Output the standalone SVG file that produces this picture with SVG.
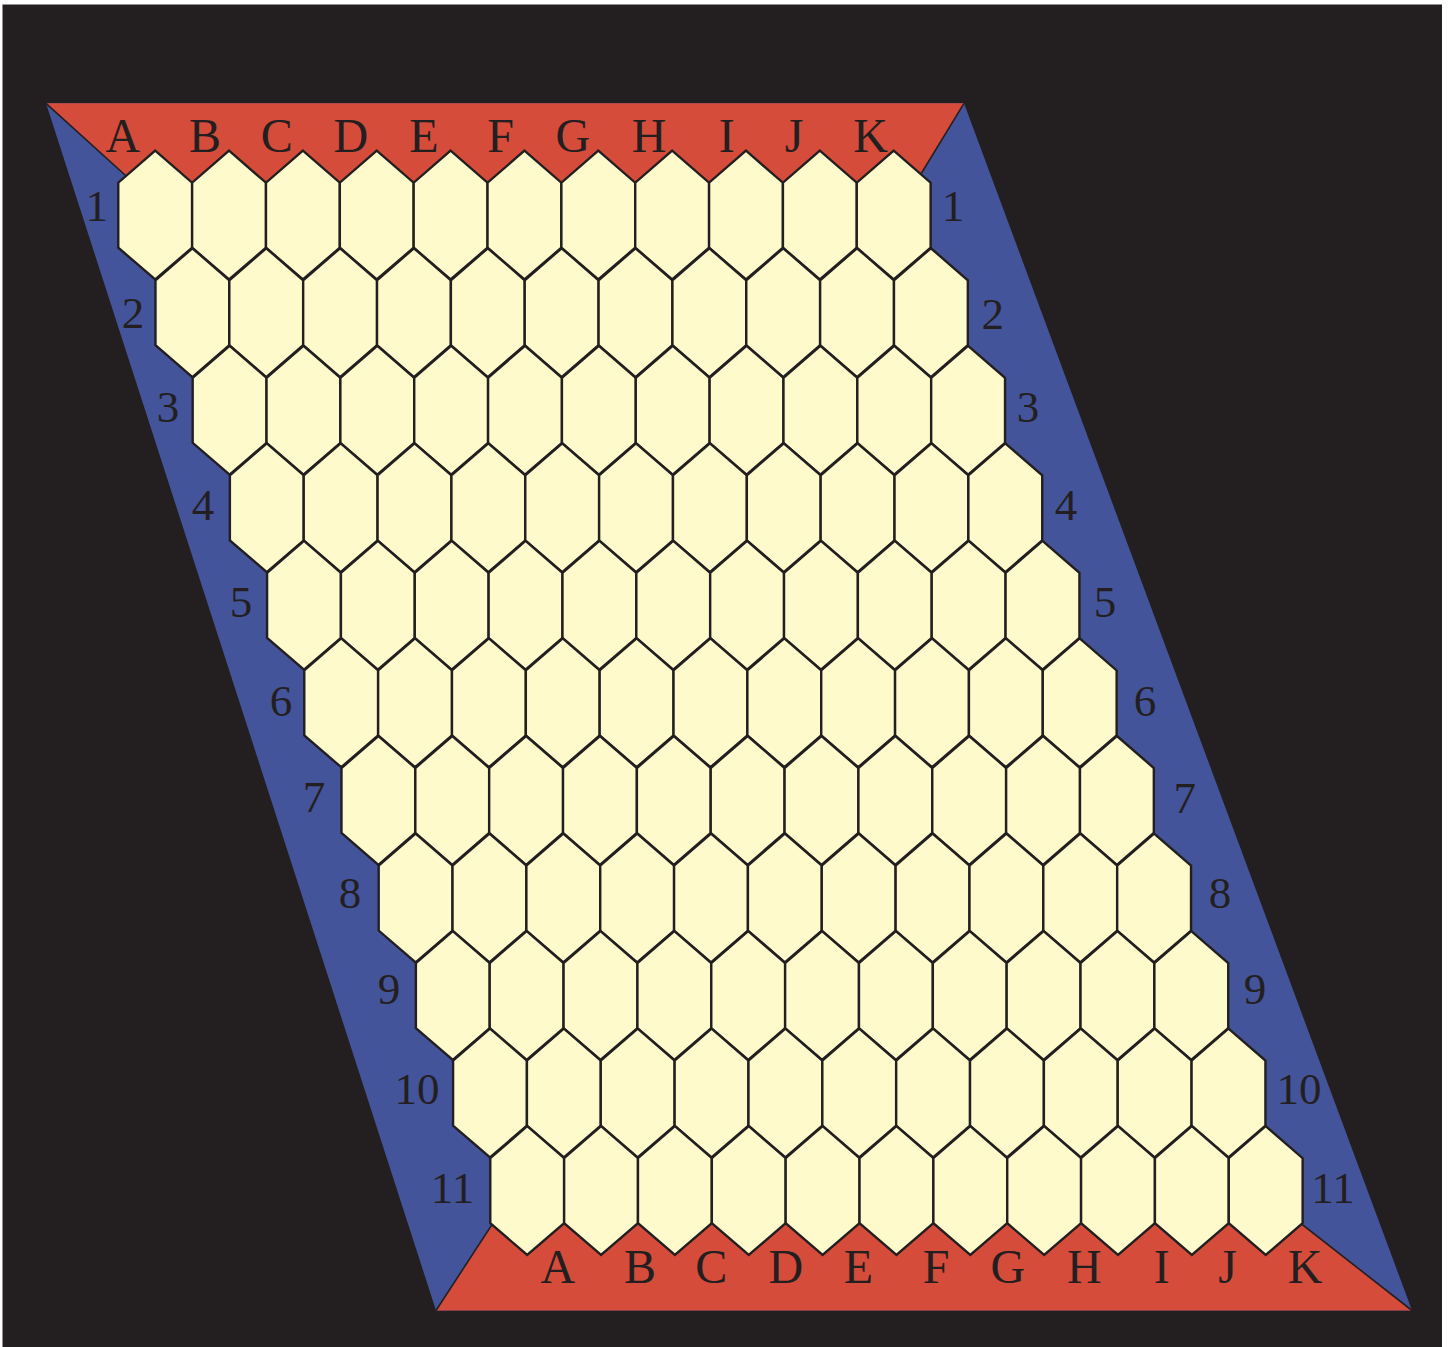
<svg xmlns="http://www.w3.org/2000/svg" width="1448" height="1347" viewBox="0 0 1448 1347">
<style>
.cell{fill:#fefacc;stroke:#231f20;stroke-width:2.4;stroke-linejoin:miter}
.edge{stroke:#231f20;stroke-width:1.6;fill:none}
.lbl{font-family:"Liberation Serif","Times New Roman",serif;fill:#231f20;text-anchor:middle}
.let{font-size:48px}
.num{font-size:45px}
</style>
<defs>
<path id="hex" class="cell" d="M0,0 L36.925,32 L36.925,97 L0,128.8 L-36.925,97 L-36.925,32 Z"/>
</defs>
<rect x="0" y="0" width="1448" height="1347" fill="#ffffff"/>
<rect x="2.5" y="4.5" width="1439.5" height="1342.5" fill="#231f20"/>
<g id="frame">
<polygon id="blue-sides" points="46,103.3 964,103.3 1412,1310.5 436,1310.5" fill="#44549b"/>
<polygon id="red-top" points="46,103.3 964,103.3 905.1,200 152.6,200" fill="#d64c3b"/>
<polygon id="red-bottom" points="436,1310.5 1412,1310.5 1270.9,1200 508,1200" fill="#d64c3b"/>
<g id="diagonals">
<line class="edge" x1="46" y1="103.3" x2="152.6" y2="200"/>
<line class="edge" x1="964" y1="103.3" x2="905.1" y2="200"/>
<line class="edge" x1="436" y1="1310.5" x2="508" y2="1200"/>
<line class="edge" x1="1412" y1="1310.5" x2="1270.9" y2="1200"/>
</g>
</g>
<g id="cells">
<g id="row1" transform="translate(155.2,150.7)"><use id="A1" href="#hex" x="0"/><use id="B1" href="#hex" x="73.85"/><use id="C1" href="#hex" x="147.7"/><use id="D1" href="#hex" x="221.55"/><use id="E1" href="#hex" x="295.4"/><use id="F1" href="#hex" x="369.25"/><use id="G1" href="#hex" x="443.1"/><use id="H1" href="#hex" x="516.95"/><use id="I1" href="#hex" x="590.8"/><use id="J1" href="#hex" x="664.65"/><use id="K1" href="#hex" x="738.5"/></g>
<g id="row2" transform="translate(192.4,248.25)"><use id="A2" href="#hex" x="0"/><use id="B2" href="#hex" x="73.85"/><use id="C2" href="#hex" x="147.7"/><use id="D2" href="#hex" x="221.55"/><use id="E2" href="#hex" x="295.4"/><use id="F2" href="#hex" x="369.25"/><use id="G2" href="#hex" x="443.1"/><use id="H2" href="#hex" x="516.95"/><use id="I2" href="#hex" x="590.8"/><use id="J2" href="#hex" x="664.65"/><use id="K2" href="#hex" x="738.5"/></g>
<g id="row3" transform="translate(229.6,345.8)"><use id="A3" href="#hex" x="0"/><use id="B3" href="#hex" x="73.85"/><use id="C3" href="#hex" x="147.7"/><use id="D3" href="#hex" x="221.55"/><use id="E3" href="#hex" x="295.4"/><use id="F3" href="#hex" x="369.25"/><use id="G3" href="#hex" x="443.1"/><use id="H3" href="#hex" x="516.95"/><use id="I3" href="#hex" x="590.8"/><use id="J3" href="#hex" x="664.65"/><use id="K3" href="#hex" x="738.5"/></g>
<g id="row4" transform="translate(266.8,443.35)"><use id="A4" href="#hex" x="0"/><use id="B4" href="#hex" x="73.85"/><use id="C4" href="#hex" x="147.7"/><use id="D4" href="#hex" x="221.55"/><use id="E4" href="#hex" x="295.4"/><use id="F4" href="#hex" x="369.25"/><use id="G4" href="#hex" x="443.1"/><use id="H4" href="#hex" x="516.95"/><use id="I4" href="#hex" x="590.8"/><use id="J4" href="#hex" x="664.65"/><use id="K4" href="#hex" x="738.5"/></g>
<g id="row5" transform="translate(304,540.9)"><use id="A5" href="#hex" x="0"/><use id="B5" href="#hex" x="73.85"/><use id="C5" href="#hex" x="147.7"/><use id="D5" href="#hex" x="221.55"/><use id="E5" href="#hex" x="295.4"/><use id="F5" href="#hex" x="369.25"/><use id="G5" href="#hex" x="443.1"/><use id="H5" href="#hex" x="516.95"/><use id="I5" href="#hex" x="590.8"/><use id="J5" href="#hex" x="664.65"/><use id="K5" href="#hex" x="738.5"/></g>
<g id="row6" transform="translate(341.2,638.45)"><use id="A6" href="#hex" x="0"/><use id="B6" href="#hex" x="73.85"/><use id="C6" href="#hex" x="147.7"/><use id="D6" href="#hex" x="221.55"/><use id="E6" href="#hex" x="295.4"/><use id="F6" href="#hex" x="369.25"/><use id="G6" href="#hex" x="443.1"/><use id="H6" href="#hex" x="516.95"/><use id="I6" href="#hex" x="590.8"/><use id="J6" href="#hex" x="664.65"/><use id="K6" href="#hex" x="738.5"/></g>
<g id="row7" transform="translate(378.4,736)"><use id="A7" href="#hex" x="0"/><use id="B7" href="#hex" x="73.85"/><use id="C7" href="#hex" x="147.7"/><use id="D7" href="#hex" x="221.55"/><use id="E7" href="#hex" x="295.4"/><use id="F7" href="#hex" x="369.25"/><use id="G7" href="#hex" x="443.1"/><use id="H7" href="#hex" x="516.95"/><use id="I7" href="#hex" x="590.8"/><use id="J7" href="#hex" x="664.65"/><use id="K7" href="#hex" x="738.5"/></g>
<g id="row8" transform="translate(415.6,833.55)"><use id="A8" href="#hex" x="0"/><use id="B8" href="#hex" x="73.85"/><use id="C8" href="#hex" x="147.7"/><use id="D8" href="#hex" x="221.55"/><use id="E8" href="#hex" x="295.4"/><use id="F8" href="#hex" x="369.25"/><use id="G8" href="#hex" x="443.1"/><use id="H8" href="#hex" x="516.95"/><use id="I8" href="#hex" x="590.8"/><use id="J8" href="#hex" x="664.65"/><use id="K8" href="#hex" x="738.5"/></g>
<g id="row9" transform="translate(452.8,931.1)"><use id="A9" href="#hex" x="0"/><use id="B9" href="#hex" x="73.85"/><use id="C9" href="#hex" x="147.7"/><use id="D9" href="#hex" x="221.55"/><use id="E9" href="#hex" x="295.4"/><use id="F9" href="#hex" x="369.25"/><use id="G9" href="#hex" x="443.1"/><use id="H9" href="#hex" x="516.95"/><use id="I9" href="#hex" x="590.8"/><use id="J9" href="#hex" x="664.65"/><use id="K9" href="#hex" x="738.5"/></g>
<g id="row10" transform="translate(490,1028.65)"><use id="A10" href="#hex" x="0"/><use id="B10" href="#hex" x="73.85"/><use id="C10" href="#hex" x="147.7"/><use id="D10" href="#hex" x="221.55"/><use id="E10" href="#hex" x="295.4"/><use id="F10" href="#hex" x="369.25"/><use id="G10" href="#hex" x="443.1"/><use id="H10" href="#hex" x="516.95"/><use id="I10" href="#hex" x="590.8"/><use id="J10" href="#hex" x="664.65"/><use id="K10" href="#hex" x="738.5"/></g>
<g id="row11" transform="translate(527.2,1126.2)"><use id="A11" href="#hex" x="0"/><use id="B11" href="#hex" x="73.85"/><use id="C11" href="#hex" x="147.7"/><use id="D11" href="#hex" x="221.55"/><use id="E11" href="#hex" x="295.4"/><use id="F11" href="#hex" x="369.25"/><use id="G11" href="#hex" x="443.1"/><use id="H11" href="#hex" x="516.95"/><use id="I11" href="#hex" x="590.8"/><use id="J11" href="#hex" x="664.65"/><use id="K11" href="#hex" x="738.5"/></g>
</g>
<g id="labels-top" class="lbl let">
<text x="122.8" y="152.3">A</text><text x="205" y="152.3">B</text><text x="276.7" y="152.3">C</text><text x="350.8" y="152.3">D</text><text x="423.8" y="152.3">E</text><text x="500.5" y="152.3">F</text><text x="572.8" y="152.3">G</text><text x="649.2" y="152.3">H</text><text x="726.7" y="152.3">I</text><text x="794" y="152.3">J</text><text x="870.7" y="152.3">K</text>
</g>
<g id="labels-bottom" class="lbl let">
<text x="557.8" y="1282.7">A</text><text x="640" y="1282.7">B</text><text x="711.3" y="1282.7">C</text><text x="785.8" y="1282.7">D</text><text x="858.3" y="1282.7">E</text><text x="936" y="1282.7">F</text><text x="1007.8" y="1282.7">G</text><text x="1084.3" y="1282.7">H</text><text x="1161.7" y="1282.7">I</text><text x="1227.5" y="1282.7">J</text><text x="1305" y="1282.7">K</text>
</g>
<g id="labels-left" class="lbl num">
<text x="96.8" y="220.7">1</text><text x="133" y="327.5">2</text><text x="168" y="422">3</text><text x="203" y="520">4</text><text x="241" y="617">5</text><text x="281" y="716">6</text><text x="314" y="812">7</text><text x="350" y="908">8</text><text x="389" y="1004">9</text><text x="417" y="1104">10</text><text x="452.5" y="1202.7">11</text>
</g>
<g id="labels-right" class="lbl num">
<text x="953" y="220.7">1</text><text x="992.7" y="329.3">2</text><text x="1028" y="422">3</text><text x="1066" y="520">4</text><text x="1105" y="617">5</text><text x="1145" y="716">6</text><text x="1184.7" y="813.3">7</text><text x="1220" y="908">8</text><text x="1255" y="1004">9</text><text x="1299" y="1104">10</text><text x="1333" y="1202.7">11</text>
</g>
</svg>
